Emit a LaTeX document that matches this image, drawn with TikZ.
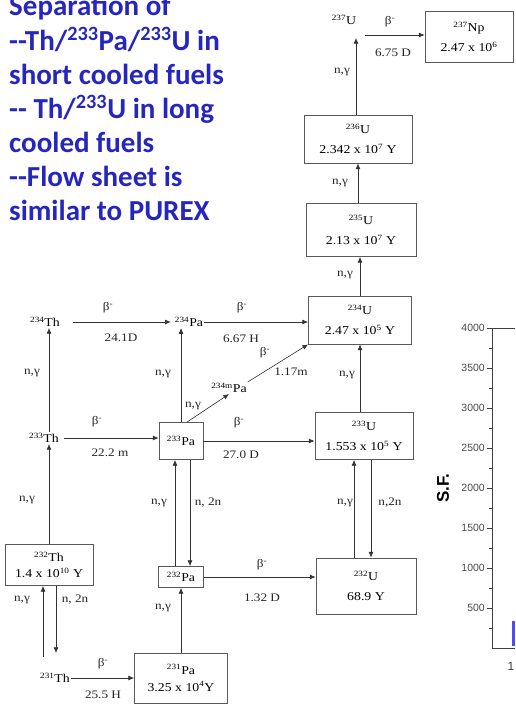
\documentclass[tikz,border=0pt]{standalone}
\usepackage{fontspec}
\setmainfont{Liberation Serif}[FakeStretch=1.15]
\newfontfamily\notefont{Carlito}
\newfontfamily\axisfont{Liberation Sans}
\usetikzlibrary{arrows.meta}

\definecolor{noteblue}{RGB}{38,38,190}
\newcommand{\nuc}[2]{\textsuperscript{#1}#2}
\newcommand{\bminus}{β\textsuperscript{-}}

\begin{document}
\begin{tikzpicture}[
    x=1pt, y=-1pt,
    nuclide/.style={
        rectangle, draw=black!65, line width=0.8pt,
        align=center, inner sep=0pt,
        font=\fontsize{12}{20}\selectfont
    },
    tag/.style={inner sep=1pt, font=\fontsize{12}{14}\selectfont},
    rate/.style={inner sep=0pt, font=\fontsize{11.5}{13}\selectfont, text=black!85},
    decay/.style={-{Latex[length=2mm,width=1.7mm]}, line width=0.6pt, draw=black!80},
    note/.style={anchor=base west, inner sep=0pt, text=noteblue,
        font=\notefont\bfseries\fontsize{29}{34}\selectfont},
    axisline/.style={line width=0.6pt, draw=black!75},
    ticklbl/.style={anchor=east, inner sep=0pt, text=black!70,
        font=\axisfont\fontsize{10.5}{12}\selectfont}
]
\useasboundingbox[fill=white] (0,0) rectangle (515,704);

% ============ Notes ============
\foreach \txt [count=\k from 0] in {Separation of,
    {-{}-Th/\textsuperscript{233}Pa/\textsuperscript{233}U in},
    short cooled fuels,
    {-{}- Th/\textsuperscript{233}U in long},
    cooled fuels,
    {-{}-Flow sheet is},
    similar to PUREX}
    \node[note] (note\k) at (9,{16+34*\k}) {\txt};

% ============ Nuclides ============
\node[tag] (u237) at (344,20) {\nuc{237}{U}};
\coordinate (u237in) at (356,38);
\coordinate (u237out) at (365,35);
\node[nuclide, minimum width=88pt, minimum height=51pt] (np237) at (469,37) {\nuc{237}{Np}\\2.47 x 10\textsuperscript{6}};
\node[nuclide, minimum width=108pt, minimum height=48pt] (u236) at (358,139) {\nuc{236}{U}\\2.342 x 10\textsuperscript{7} Y};
\node[nuclide, minimum width=110pt, minimum height=53pt] (u235) at (361,230) {\nuc{235}{U}\\2.13 x 10\textsuperscript{7} Y};
\node[nuclide, minimum width=103pt, minimum height=48pt] (u234) at (360,320) {\nuc{234}{U}\\2.47 x 10\textsuperscript{5} Y};
\node[nuclide, minimum width=98pt, minimum height=47pt] (u233) at (364,436) {\nuc{233}{U}\\1.553 x 10\textsuperscript{5} Y};
\node[nuclide, minimum width=100pt, minimum height=56pt] (u232) at (366,586) {\nuc{232}{U}\\68.9 Y};

\node[tag] (th234) at (45,322) {\nuc{234}{Th}};
\node[tag] (pa234) at (189,322) {\nuc{234}{Pa}};
\node[tag] (pa234m) at (229,388) {\nuc{234m}{Pa}};
\node[tag] (th233) at (44,438) {\nuc{233}{Th}};
\node[nuclide, minimum width=44pt, minimum height=37pt] (pa233) at (181,441) {\nuc{233}{Pa}};
\node[nuclide, minimum width=45pt, minimum height=21pt] (pa232) at (181,577) {\nuc{232}{Pa}};
\node[nuclide, minimum width=88pt, minimum height=41pt] (th232) at (49,565) {\nuc{232}{Th}\\[-4pt]1.4 x 10\textsuperscript{10} Y};
\node[tag] (th231) at (55,678) {\nuc{231}{Th}};
\node[nuclide, minimum width=93pt, minimum height=50pt] (pa231) at (181,678) {\nuc{231}{Pa}\\[-3pt]3.25 x 10\textsuperscript{4}Y};
\coordinate (th231up) at (43,657);
\coordinate (th231dn) at (56,653);

% ============ Captures and decays ============
\draw[decay] (u236.north -| u237in) -- (u237in);
\draw[decay] (u237out) -- (u237out -| np237.west);
\draw[decay] (u235.north -| u236.south) -- (u236.south);
\draw[decay] (u234.north) -- (u234.north |- u235.south);
\draw[decay] (u233.north -| u234) -- (u234.south);
\draw[decay] (pa234.east) -- (pa234.east -| u234.west);
\draw[decay] (pa234m.north east) -- (u234.south west);
\draw[decay] ([xshift=6pt]pa233.north) -- (pa234m.south);
\draw[decay] (pa233.north) -- (pa233.north |- pa234.south);
\draw[decay, shorten <=4pt] (th233.east) -- (th233.east -| pa233.west);
\draw[decay, shorten <=12pt, shorten >=3pt] (th234.east) -- (th234.east -| pa234.west);
\draw[decay] ([xshift=5pt]th233.north) -- ([xshift=5pt]th233.north |- th234.south);
\draw[decay] (th232.north) -- (th232.north |- th233.south);
\draw[decay] (pa233.east) -- (pa233.east -| u233.west);
\draw[decay] ([xshift=-6pt]pa232.north) -- ([xshift=-6pt]pa232.north |- pa233.south);
\draw[decay] ([xshift=9pt]pa233.south) -- ([xshift=9pt]pa233.south |- pa232.north);
\draw[decay] (pa231.north -| pa232) -- (pa232.south);
\draw[decay] (th231up) -- (th231up |- th232.south);
\draw[decay] (th231dn |- th232.south) -- (th231dn);
\draw[decay] (th231.east) -- (th231.east -| pa231.west);
\draw[decay] (pa232.east) -- (pa232.east -| u232.west);
\draw[decay] ([xshift=-12pt]u232.north) -- ([xshift=-12pt]u232.north |- u233.south);
\draw[decay] ([xshift=7pt]u233.south) -- ([xshift=7pt]u233.south |- u232.north);

% ============ Labels ============
\node[rate] (bU237) at (390,22) {\bminus};
\node[rate] (tU237) at (393,53) {6.75 D};
\node[rate] (ngU237) at (342,72) {n,γ};
\node[rate] (ngU236) at (340,183) {n,γ};
\node[rate] (ngU235) at (345,275) {n,γ};
\node[rate] (ngU234) at (347,375) {n,γ};
\node[rate] (bTh234) at (108,308) {\bminus};
\node[rate] (tTh234) at (121,338) {24.1D};
\node[rate] (bPa234) at (242,308) {\bminus};
\node[rate] (tPa234) at (241,339) {6.67 H};
\node[rate] (bPa234m) at (265,353) {\bminus};
\node[rate] (tPa234m) at (291,372) {1.17m};
\node[rate] (ngTh233) at (32,373) {n,γ};
\node[rate] (ngPa233) at (163,374) {n,γ};
\node[rate] (ngPa233m) at (193,406) {n,γ};
\node[rate] (bTh233) at (97,422) {\bminus};
\node[rate] (tTh233) at (110,453) {22.2 m};
\node[rate] (bPa233) at (239,423) {\bminus};
\node[rate] (tPa233) at (241,455) {27.0 D};
\node[rate] (ngTh232) at (27,500) {n,γ};
\node[rate] (ngPa232) at (159,503) {n,γ};
\node[rate] (nnPa233) at (208,503) {n, 2n};
\node[rate] (ngU232) at (345,503) {n,γ};
\node[rate] (nnU233) at (390,503) {n,2n};
\node[rate] (bPa232) at (262,565) {\bminus};
\node[rate] (tPa232) at (262,598) {1.32 D};
\node[rate] (ngTh231) at (22,600) {n,γ};
\node[rate] (nnTh232) at (75,600) {n, 2n};
\node[rate] (ngPa231) at (163,608) {n,γ};
\node[rate] (bTh231) at (103,664) {\bminus};
\node[rate] (tTh231) at (103,695) {25.5 H};

% ============ Chart edge ============
\draw[axisline] (515,328) -- (492,328) -- (492,648) -- (515,648);
\foreach \v [count=\k from 0] in {4000,3500,3000,2500,2000,1500,1000,500} {
    \draw[axisline] (487,{328+40*\k}) -- (492,{328+40*\k});
    \draw[axisline] (489,{348+40*\k}) -- (492,{348+40*\k});
    \node[ticklbl] (sf\k) at (485,{328+40*\k}) {\v};
}
\node[rotate=90, inner sep=0pt, font=\axisfont\bfseries\fontsize{17}{19}\selectfont] (sflabel) at (443,488) {S.F.};
\node[inner sep=0pt, font=\axisfont\fontsize{12}{14}\selectfont, text=black!75] (year) at (511,666) {1};
\fill[blue!70] (512,621) rectangle (515,646);

\end{tikzpicture}
\end{document}
